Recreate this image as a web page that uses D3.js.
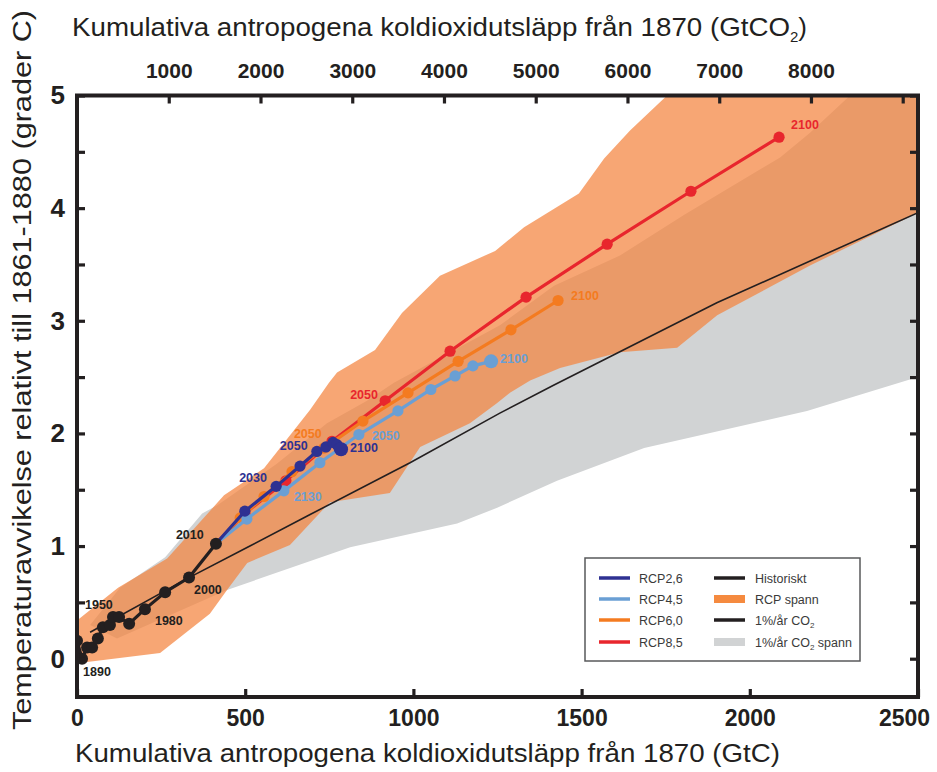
<!DOCTYPE html>
<html>
<head>
<meta charset="utf-8">
<script src="https://cdn.jsdelivr.net/npm/d3@7"></script>
<style>
body { margin: 0; background: #fff; }
svg { display: block; font-family: "Liberation Sans Narrow", "Liberation Sans", Arial, sans-serif; }
</style>
</head>
<body>
<script>
// ---- data (GtC cumulative since 1870, temperature anomaly vs 1861-1880) ----
const gtcTicks = [0, 500, 1000, 1500, 2000, 2500];
const co2Ticks = [1000, 2000, 3000, 4000, 5000, 6000, 7000, 8000, 9000];
const tempTicks = [0, 0.5, 1, 1.5, 2, 2.5, 3, 3.5, 4, 4.5, 5];

const histYears = [1880, 1890, 1900, 1910, 1920, 1930, 1940, 1950, 1960, 1970, 1980, 1990, 2000, 2010];
const histE = [0, 15, 30, 45, 62, 77, 98, 107, 125, 155, 202, 262, 333, 413];
const histT = [0.16, 0.00, 0.10, 0.10, 0.18, 0.28, 0.30, 0.37, 0.37, 0.31, 0.44, 0.59, 0.72, 1.02];

const rcpYears = [2010, 2020, 2030, 2040, 2050, 2060, 2070, 2080, 2090, 2100];
const rcp26E = [413, 499, 592, 663, 713, 740, 761, 773, 779, 785];
const rcp26T = [1.02, 1.31, 1.53, 1.71, 1.84, 1.88, 1.92, 1.90, 1.87, 1.86];
const rcp45E = [413, 505, 615, 722, 838, 954, 1052, 1124, 1177, 1231];
const rcp45T = [1.02, 1.24, 1.49, 1.74, 1.99, 2.20, 2.39, 2.51, 2.60, 2.64];
const rcp60E = [413, 485, 556, 639, 734, 850, 984, 1133, 1290, 1430];
const rcp60T = [1.02, 1.25, 1.44, 1.66, 1.87, 2.11, 2.36, 2.64, 2.92, 3.18];
const rcp85E = [413, 499, 621, 758, 916, 1109, 1335, 1576, 1825, 2087];
const rcp85T = [1.02, 1.29, 1.58, 1.93, 2.29, 2.73, 3.21, 3.68, 4.15, 4.63];

// 1%/yr CO2 experiment mean
const pctE = [39, 333, 514, 693, 990, 1257, 1418, 1902, 2500];
const pctT = [0.235, 0.72, 1.00, 1.28, 1.74, 2.18, 2.43, 3.16, 3.96];

// 1%/yr CO2 range (upper edge then lower edge)
const pctUpperE = [39, 128, 262, 372, 416, 594, 743, 862, 942, 1257, 1418, 1614, 1804, 2090, 2179, 2298, 2500];
const pctUpperT = [0.30, 0.63, 0.90, 1.29, 1.36, 1.73, 2.09, 2.29, 2.45, 2.96, 3.31, 3.58, 3.94, 4.45, 4.67, 5.00, 5.58];
const pctLowerE = [2500, 2170, 1686, 1427, 1249, 1130, 812, 446, 119];
const pctLowerT = [2.50, 2.20, 1.87, 1.58, 1.34, 1.20, 0.99, 0.61, 0.18];

// RCP range
const rcpUpperE = [0, 122, 268, 437, 556, 693, 749, 773, 886, 966, 1079, 1243, 1329, 1492, 1567, 1644, 1754, 1971, 2500];
const rcpUpperT = [0.34, 0.63, 0.89, 1.45, 1.69, 2.21, 2.45, 2.54, 2.74, 3.07, 3.40, 3.62, 3.83, 4.13, 4.44, 4.69, 5.00, 5.84, 6.5];
const rcpLowerE = [2500, 2179, 1903, 1784, 1614, 1436, 1347, 1287, 1249, 1168, 1020, 930, 752, 633, 506, 446, 395, 247, 0];
const rcpLowerT = [3.96, 3.49, 3.05, 2.76, 2.72, 2.58, 2.47, 2.36, 2.27, 2.09, 1.88, 1.47, 1.39, 1.01, 0.85, 0.61, 0.40, 0.05, -0.04];

const histLabels = [1890, 1950, 1980, 2000, 2010];
const rcpLabels = [
    { key: 'rcp26', year: 2030, text: '2030' },
    { key: 'rcp26', year: 2050, text: '2050' },
    { key: 'rcp26', year: 2100, text: '2100' },
    { key: 'rcp45', year: 2030, text: '2130' },
    { key: 'rcp45', year: 2050, text: '2050' },
    { key: 'rcp45', year: 2100, text: '2100' },
    { key: 'rcp60', year: 2050, text: '2050' },
    { key: 'rcp60', year: 2100, text: '2100' },
    { key: 'rcp85', year: 2050, text: '2050' },
    { key: 'rcp85', year: 2100, text: '2100' }
];

// ---- setup ----
const W = 937, H = 772;
const ink = '#231f20';
const colors = { rcp26: '#2e3192', rcp45: '#6a9fd4', rcp60: '#f47b20', rcp85: '#e8262d' };

const svg = d3.select('body').append('svg').attr('width', W).attr('height', H);

const x = d3.scaleLinear().domain([0, 2500]).range([77, 918]);
const x2 = d3.scaleLinear().domain([0, 2500 * 44 / 12]).range([77, 918]);
const y = d3.scaleLinear().domain([-0.34, 5]).range([697, 95.5]);

svg.append('defs').append('clipPath').attr('id', 'clip')
    .append('rect')
    .attr('x', x(0)).attr('y', y(5))
    .attr('width', x(2500) - x(0)).attr('height', y(-0.34) - y(5));

const plot = svg.append('g').attr('clip-path', 'url(#clip)');
const zip = (a, b) => a.map((v, i) => [v, b[i]]);
const line = d3.line().x(d => x(d[0])).y(d => y(d[1]));

// ranges
plot.append('path')
    .attr('d', line(zip(pctUpperE, pctUpperT).concat(zip(pctLowerE, pctLowerT))) + 'Z')
    .attr('fill', '#d1d3d4');
plot.append('path')
    .attr('d', line(zip(rcpUpperE, rcpUpperT).concat(zip(rcpLowerE, rcpLowerT))) + 'Z')
    .attr('fill', '#f4843f')
    .attr('fill-opacity', 0.72);

// 1%/yr line
plot.append('path')
    .attr('d', line(zip(pctE, pctT)))
    .attr('fill', 'none').attr('stroke', ink).attr('stroke-width', 1.6);

// RCP scenarios
const series = {
    rcp85: zip(rcp85E, rcp85T),
    rcp60: zip(rcp60E, rcp60T),
    rcp45: zip(rcp45E, rcp45T),
    rcp26: zip(rcp26E, rcp26T)
};
Object.keys(series).forEach(k => {
    const pts = series[k];
    plot.append('path')
        .attr('d', line(pts))
        .attr('fill', 'none').attr('stroke', colors[k]).attr('stroke-width', 3.2);
    plot.selectAll('.dot-' + k)
        .data(pts.slice(1))
        .enter().append('circle')
        .attr('cx', d => x(d[0])).attr('cy', d => y(d[1]))
        .attr('r', (d, i) => (i === pts.length - 2 && (k === 'rcp26' || k === 'rcp45')) ? 7 : 5.6)
        .attr('fill', colors[k]);
});

// historical
const hist = zip(histE, histT);
plot.append('path')
    .attr('d', line(hist))
    .attr('fill', 'none').attr('stroke', ink).attr('stroke-width', 3.2);
plot.selectAll('.hdot')
    .data(hist)
    .enter().append('circle')
    .attr('cx', d => x(d[0])).attr('cy', d => y(d[1]))
    .attr('r', 6)
    .attr('fill', ink);

// year labels (offsets in px from their point)
const histOff = { 1890: [1, 17], 1950: [-28, -8], 1980: [10, 16], 2000: [5, 16], 2010: [-40, -5] };
histLabels.forEach(yr => {
    const i = histYears.indexOf(yr);
    svg.append('text')
        .attr('x', x(histE[i]) + histOff[yr][0])
        .attr('y', y(histT[i]) + histOff[yr][1])
        .attr('font-size', 12.5).attr('font-weight', 'bold').attr('fill', ink)
        .text(yr);
});
const labOff = {
    'rcp26-2030': [-37, -4], 'rcp26-2050': [-37, -1], 'rcp26-2100': [9, 3],
    'rcp45-2030': [10, 10], 'rcp45-2050': [13, 5], 'rcp45-2100': [9, 2],
    'rcp60-2050': [-30, -10], 'rcp60-2100': [13, -1],
    'rcp85-2050': [-35, -2], 'rcp85-2100': [12, -8]
};
rcpLabels.forEach(l => {
    const i = rcpYears.indexOf(l.year);
    const p = series[l.key][i];
    const o = labOff[l.key + '-' + l.year];
    svg.append('text')
        .attr('x', x(p[0]) + o[0])
        .attr('y', y(p[1]) + o[1])
        .attr('font-size', 12.5).attr('font-weight', 'bold').attr('fill', colors[l.key])
        .text(l.text);
});

// ---- axes ----
function styleAxis(g) {
    g.select('.domain').remove();
    g.selectAll('.tick line').attr('stroke', ink).attr('stroke-width', 3.2);
    g.selectAll('.tick text').attr('fill', ink).attr('font-weight', 'bold')
        .attr('font-family', '"Liberation Sans Narrow", "Liberation Sans", Arial, sans-serif');
}
svg.append('g').attr('transform', `translate(0,${y(-0.34)})`)
    .call(d3.axisBottom(x).tickValues(gtcTicks).tickSize(-8).tickPadding(13).tickFormat(d3.format('d')))
    .call(styleAxis)
    .call(g => g.selectAll('.tick text').attr('font-size', 23))
    .call(g => g.selectAll('.tick').filter(d => d === 2500).select('text').attr('dx', -14));
svg.append('g').attr('transform', `translate(0,${y(5)})`)
    .call(d3.axisTop(x2).tickValues(co2Ticks).tickSize(-8).tickPadding(18)
        .tickFormat(d => d < 9000 ? String(d) : ''))
    .call(styleAxis)
    .call(g => g.selectAll('.tick text').attr('font-size', 21));
svg.append('g').attr('transform', `translate(${x(0)},0)`)
    .call(d3.axisLeft(y).tickValues(tempTicks).tickSize(-8).tickPadding(12)
        .tickFormat(d => Number.isInteger(d) ? String(d) : ''))
    .call(styleAxis)
    .call(g => g.selectAll('.tick text').attr('font-size', 26));
svg.append('g').attr('transform', `translate(${x(2500)},0)`)
    .call(d3.axisRight(y).tickValues(tempTicks).tickSize(-8).tickFormat(''))
    .call(styleAxis);

// frame
svg.append('rect')
    .attr('x', x(0)).attr('y', y(5))
    .attr('width', x(2500) - x(0)).attr('height', y(-0.34) - y(5))
    .attr('fill', 'none').attr('stroke', ink).attr('stroke-width', 4);

// titles
svg.append('text')
    .attr('x', 75).attr('y', 762)
    .attr('font-size', 26).attr('fill', ink)
    .attr('textLength', 705).attr('lengthAdjust', 'spacingAndGlyphs')
    .text('Kumulativa antropogena koldioxidutsläpp från 1870 (GtC)');

const topTitle = svg.append('text')
    .attr('x', 72).attr('y', 36)
    .attr('font-size', 26).attr('fill', ink);
topTitle.append('tspan').text('Kumulativa antropogena koldioxidutsläpp från 1870 (GtCO')
    .attr('textLength', 718).attr('lengthAdjust', 'spacingAndGlyphs');
topTitle.append('tspan').attr('font-size', 15).attr('dy', 6).text('2');
topTitle.append('tspan').attr('dy', -6).text(')');

svg.append('text')
    .attr('transform', 'translate(31,730) rotate(-90)')
    .attr('font-size', 26).attr('fill', ink)
    .attr('textLength', 720).attr('lengthAdjust', 'spacingAndGlyphs')
    .text('Temperaturavvikelse relativt till 1861-1880 (grader C)');

// ---- legend ----
const lg = svg.append('g');
lg.append('rect')
    .attr('x', 585).attr('y', 558).attr('width', 275).attr('height', 103)
    .attr('fill', '#fff').attr('stroke', '#58595b').attr('stroke-width', 1.5);
const rows = [578, 599, 620, 642];
const leftItems = [['RCP2,6', colors.rcp26], ['RCP4,5', colors.rcp45], ['RCP6,0', colors.rcp60], ['RCP8,5', colors.rcp85]];
leftItems.forEach((it, i) => {
    lg.append('line').attr('x1', 599).attr('x2', 630).attr('y1', rows[i]).attr('y2', rows[i])
        .attr('stroke', it[1]).attr('stroke-width', 3.5);
    lg.append('text').attr('x', 639).attr('y', rows[i] + 5)
        .attr('font-size', 12.5).attr('fill', '#3a3a3a').text(it[0]);
});
const rightItems = [
    { name: 'Historiskt', kind: 'line', color: ink },
    { name: 'RCP spann', kind: 'rect', color: '#f58a3f' },
    { name: '1%/år CO', sub: '2', kind: 'line', color: ink },
    { name: '1%/år CO', sub: '2', tail: ' spann', kind: 'rect', color: '#d1d3d4' }
];
rightItems.forEach((it, i) => {
    if (it.kind === 'line') {
        lg.append('line').attr('x1', 714).attr('x2', 745).attr('y1', rows[i]).attr('y2', rows[i])
            .attr('stroke', it.color).attr('stroke-width', 3.5);
    } else {
        lg.append('rect').attr('x', 714).attr('y', rows[i] - 4).attr('width', 31).attr('height', 8)
            .attr('fill', it.color);
    }
    const t = lg.append('text').attr('x', 755).attr('y', rows[i] + 5)
        .attr('font-size', 12.5).attr('fill', '#3a3a3a');
    t.append('tspan').text(it.name);
    if (it.sub) {
        t.append('tspan').attr('font-size', 8).attr('dy', 3).text(it.sub);
        if (it.tail) t.append('tspan').attr('dy', -3).text(it.tail);
    }
});
</script>
</body>
</html>
